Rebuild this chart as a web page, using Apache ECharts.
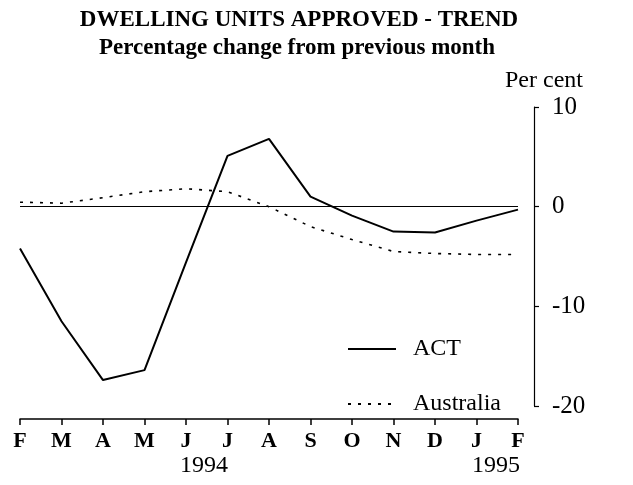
<!DOCTYPE html>
<html>
<head>
<meta charset="utf-8">
<script src="https://cdn.jsdelivr.net/npm/echarts@6/dist/echarts.min.js"></script>
<style>
  html, body { margin: 0; padding: 0; background: #fff; }
  #chart { width: 633px; height: 485px; }
</style>
</head>
<body>
<div id="chart"></div>
<script>
// months Feb 1994 .. Feb 1995
const months = ['F', 'M', 'A', 'M', 'J', 'J', 'A', 'S', 'O', 'N', 'D', 'J', 'F'];
const actValues = [-4.2, -11.5, -17.4, -16.4, -5.6, 5.1, 6.8, 1.0, -0.9, -2.5, -2.6, -1.4, -0.3];
const ausValues = [0.45, 0.35, 0.9, 1.5, 1.8, 1.5, 0.0, -2.0, -3.3, -4.5, -4.7, -4.8, -4.8];
const yearLabels = ['1994', '1995'];
const yTicks = { min: -20, max: 10, interval: 10 };

const serif = '"Liberation Serif", "DejaVu Serif", serif';
const chart = echarts.init(document.getElementById('chart'));

const option = {
  animation: false,
  backgroundColor: '#fff',
  title: [
    {
      text: 'DWELLING UNITS APPROVED - TREND',
      left: 294, top: 4, textAlign: 'center',
      textStyle: { fontFamily: serif, fontSize: 23, fontWeight: 'bold', color: '#000' }
    },
    {
      text: 'Percentage change from previous month',
      left: 292, top: 32, textAlign: 'center',
      textStyle: { fontFamily: serif, fontSize: 23, fontWeight: 'bold', color: '#000' }
    }
  ],
  legend: {
    orient: 'vertical',
    left: 347, top: 337,
    padding: 0,
    itemWidth: 48, itemHeight: 14, itemGap: 31,
    itemStyle: { opacity: 0 },
    textStyle: { fontFamily: serif, fontSize: 24, color: '#000', padding: [0, 0, 0, 12] },
    data: ['ACT', 'Australia']
  },
  grid: { left: 20, right: 115, top: 107, bottom: 79 },
  xAxis: {
    type: 'category',
    data: months,
    boundaryGap: false,
    offset: 13,
    axisLine: { onZero: false, lineStyle: { color: '#000', width: 1.5 } },
    axisTick: { length: 6, lineStyle: { color: '#000', width: 1.5 } },
    axisLabel: { fontFamily: serif, fontSize: 22, fontWeight: 'bold', color: '#000', margin: 11 },
    splitLine: { show: false }
  },
  yAxis: {
    type: 'value',
    position: 'right',
    offset: 16,
    min: yTicks.min, max: yTicks.max, interval: yTicks.interval,
    axisLine: { show: true, lineStyle: { color: '#000', width: 1.2 } },
    axisTick: { show: true, length: 5, lineStyle: { color: '#000', width: 1.2 } },
    axisLabel: { fontFamily: serif, fontSize: 25, color: '#000', margin: 18 },
    splitLine: { show: false }
  },
  graphic: [
    {
      type: 'text', left: 505, top: 69,
      style: { text: 'Per cent', font: '24px ' + serif, fill: '#000' }
    },
    {
      type: 'text', left: 180, top: 454,
      style: { text: yearLabels[0], font: '24px ' + serif, fill: '#000' }
    },
    {
      type: 'text', left: 472, top: 454,
      style: { text: yearLabels[1], font: '24px ' + serif, fill: '#000' }
    }
  ],
  series: [
    {
      name: 'ACT',
      type: 'line',
      data: actValues,
      symbol: 'none',
      lineStyle: { color: '#000', width: 2 },
      itemStyle: { color: '#000' },
      markLine: {
        silent: true,
        symbol: 'none',
        label: { show: false },
        lineStyle: { color: '#000', width: 1.2, type: 'solid' },
        data: [{ yAxis: 0 }]
      }
    },
    {
      name: 'Australia',
      type: 'line',
      data: ausValues,
      symbol: 'none',
      lineStyle: { color: '#000', width: 1.6, type: [3, 7] },
      itemStyle: { color: '#000' }
    }
  ]
};

chart.setOption(option);
</script>
</body>
</html>
